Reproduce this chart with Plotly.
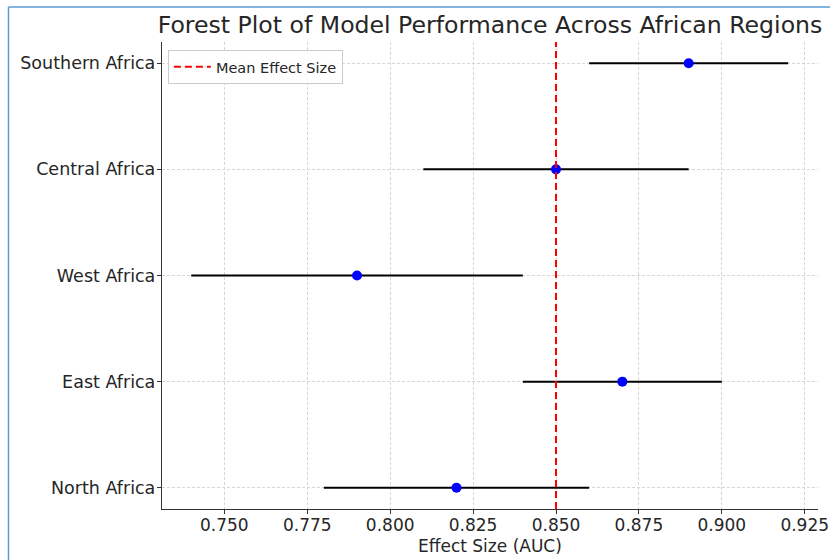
import plotly.graph_objects as go

regions = ["North Africa", "East Africa", "West Africa", "Central Africa", "Southern Africa"]
effect = [0.82, 0.87, 0.79, 0.85, 0.89]
ci_lower = [0.78, 0.84, 0.74, 0.81, 0.86]
ci_upper = [0.86, 0.90, 0.84, 0.89, 0.92]
mean_effect = 0.85
x_ticks = [0.750, 0.775, 0.800, 0.825, 0.850, 0.875, 0.900, 0.925]

ypos = list(range(len(regions)))
err_plus = [u - e for u, e in zip(ci_upper, effect)]
err_minus = [e - l for e, l in zip(effect, ci_lower)]

FONT = "DejaVu Sans"
TXT = "#262626"

fig = go.Figure()
fig.add_trace(go.Scatter(
    x=effect, y=ypos, mode="markers",
    marker=dict(color="#0000ff", size=10, line=dict(width=0)),
    error_x=dict(type="data", symmetric=False, array=err_plus, arrayminus=err_minus,
                 color="black", thickness=2, width=0),
    showlegend=False, hoverinfo="x+y",
))

fig.add_shape(type="line", x0=mean_effect, x1=mean_effect, xref="x", yref="paper", y0=0, y1=1,
              line=dict(color="red", width=2, dash="7px,4px"),
              showlegend=True, name="Mean Effect Size", layer="above")

# screenshot frame lines (blue)
L, R, T, B = 162, 818, 42, 509
W, H = R - L, B - T
def px_x(p): return (p - L) / W
def px_y(p): return (B - p) / H
fig.add_shape(type="line", xref="paper", yref="paper", x0=px_x(8.5), x1=px_x(8.5), y0=px_y(7), y1=px_y(560),
              line=dict(color="#5b9bd5", width=1.5), layer="above")
fig.add_shape(type="line", xref="paper", yref="paper", x0=px_x(8.5), x1=px_x(830), y0=px_y(7), y1=px_y(7),
              line=dict(color="#5b9bd5", width=1.5), layer="above")

fig.add_annotation(text="Effect Size (AUC)", xref="paper", yref="paper", x=0.5, y=px_y(546),
                   xanchor="center", yanchor="middle", showarrow=False,
                   font=dict(size=17, family=FONT, color=TXT))

fig.update_layout(
    width=830, height=560,
    margin=dict(l=L, r=830 - R, t=T, b=560 - B, autoexpand=False),
    paper_bgcolor="white", plot_bgcolor="white",
    font=dict(family=FONT, color=TXT, size=17),
    title=dict(text="Forest Plot of Model Performance Across African Regions",
               x=(L + R) / 2 / 830, xref="container", xanchor="center",
               y=1 - 25 / 560, yref="container", yanchor="middle",
               font=dict(size=23.6, color=TXT, family=FONT)),
    legend=dict(x=0.009, y=0.983, xanchor="left", yanchor="top", itemwidth=37,
                bgcolor="rgba(255,255,255,0.85)", bordercolor="#cccccc", borderwidth=1,
                font=dict(size=14.5, family=FONT, color=TXT)),
    showlegend=True,
)

fig.update_xaxes(
    range=[0.7312, 0.929], tickvals=x_ticks, ticktext=[f"{v:.3f}" for v in x_ticks],
    showline=True, linecolor="#333333", linewidth=1.3, mirror=False,
    ticks="outside", ticklen=4, tickcolor="#333333",
    showgrid=True, gridcolor="#d6d6d6", griddash="3px,2px", gridwidth=1,
    zeroline=False, automargin=False, ticklabelstandoff=-4,
    tickfont=dict(size=17),
)
fig.update_yaxes(
    range=[-0.2, 4.2], tickvals=ypos, ticktext=regions,
    showline=True, linecolor="#333333", linewidth=1.3, mirror=False,
    ticks="outside", ticklen=4, tickcolor="#333333",
    showgrid=True, gridcolor="#d6d6d6", griddash="3px,2px", gridwidth=1,
    zeroline=False, automargin=False, ticklabelstandoff=-2, tickfont=dict(size=17.5),
)

fig.write_html("out.html", config={"displayModeBar": False},
               post_script="document.body.style.margin='0';document.body.style.padding='0';")
